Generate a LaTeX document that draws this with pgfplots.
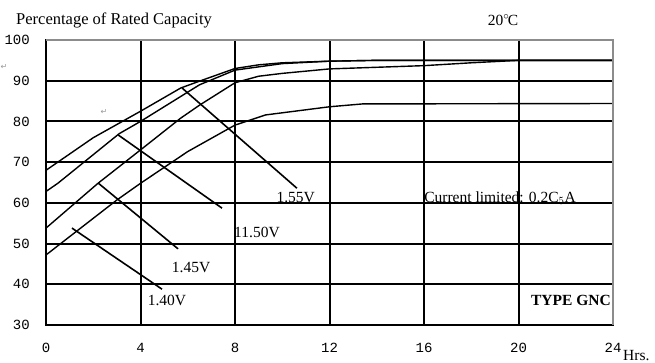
\documentclass[border=0pt]{standalone}
\usepackage{pgfplots}
\pgfplotsset{compat=1.18}
\usepackage{fontspec}
\setmainfont{Liberation Serif}
\setmonofont{Liberation Mono}
\newfontfamily\djv{DejaVu Sans}
\newcommand\fs{\fontsize{15.5}{18}\selectfont}
\begin{document}
\begin{tikzpicture}[x=1pt,y=1pt]
\path[use as bounding box] (0,0) rectangle (655,363);
\begin{axis}[
  at={(46pt,38pt)}, anchor=south west,
  scale only axis, width=567pt, height=285pt,
  xmin=0, xmax=24, ymin=30, ymax=100,
  xtick={0,4,8,12,16,20,24}, ytick={30,40,50,60,70,80,90,100},
  major tick length=0pt,
  grid=major,
  major grid style={black, line width=2pt},
  axis line style={black, line width=2pt},
  /pgf/number format/assume math mode=true,
  tick label style={font=\ttfamily\fontsize{14}{14}\selectfont, inner sep=0pt},
  yticklabel style={anchor=east, xshift=-16pt},
  xticklabel style={anchor=center, yshift=-23pt},
  clip=false,
]
% 1.55V
\addplot[black, line width=1.4pt] coordinates {(0,68)(2,76)(4,82.5)(5.7,88.2)(6.5,89.9)(8,93)(9,93.9)(10,94.4)(12,94.8)(14,95)(24,95)};
% 1.50V
\addplot[black, line width=1.4pt] coordinates {(0,62.8)(0.5,64.8)(3.1,77)(4,80)(6.5,89)(8,92.6)(10,94.2)(12,94.8)(14,95)(24,95)};
% 1.45V
\addplot[black, line width=1.4pt] coordinates {(0,53.8)(2.2,64.8)(4,73)(5.7,80.8)(6.5,84)(8,89.5)(9,91.1)(10,91.8)(12,92.9)(14,93.3)(16,93.7)(18,94.4)(20,95)(24,95)};
% 1.40V
\addplot[black, line width=1.4pt] coordinates {(0,47.2)(3,60.7)(4,64.8)(6,72.6)(8,79.1)(9.3,81.6)(12,83.6)(13.4,84.3)(24,84.4)};
% pointers
\addplot[black, line width=1.6pt] coordinates {(5.76,88.2)(10.62,63.6)};
\addplot[black, line width=1.6pt] coordinates {(3.05,76.7)(7.45,58.7)};
\addplot[black, line width=1.6pt] coordinates {(2.2,64.9)(5.59,48.7)};
\addplot[black, line width=1.6pt] coordinates {(1.1,53.8)(4.91,38.8)};
\draw[black!45, line width=2pt] (rel axis cs:0,1) -- (rel axis cs:1,1) -- (rel axis cs:1,0);
\node[font=\fs, inner sep=0pt] at (axis cs:10.57,61.4) {1.55V};
\node[font=\fs, inner sep=0pt] at (axis cs:8.93,52.8) {11.50V};
\node[font=\fs, inner sep=0pt] at (axis cs:6.14,44.2) {1.45V};
\node[font=\fs, inner sep=0pt] at (axis cs:5.12,36.1) {1.40V};
\node[font=\fs, inner sep=0pt] at (axis cs:19.22,61.2) {Current limited: 0.2C$_5$A};
\node[font=\fs\bfseries, inner sep=0pt] at (axis cs:22.22,36.1) {TYPE GNC};
\end{axis}
\node[font=\fontsize{16.5}{18}\selectfont, anchor=west, inner sep=0pt] at (16,343) {Percentage of Rated Capacity};
\node[font=\fs, inner sep=0pt] at (503,343) {20$^{\circ}$\kern-1.5pt C};
\node[font=\fs, anchor=west, inner sep=0pt] at (623,7) {Hrs.};
\node[font=\djv\fontsize{8}{8}\selectfont, text=black!40, inner sep=0pt] at (4,296) {↵};
\node[font=\djv\fontsize{8}{8}\selectfont, text=black!40, inner sep=0pt] at (104,251) {↵};
\end{tikzpicture}
\end{document}
